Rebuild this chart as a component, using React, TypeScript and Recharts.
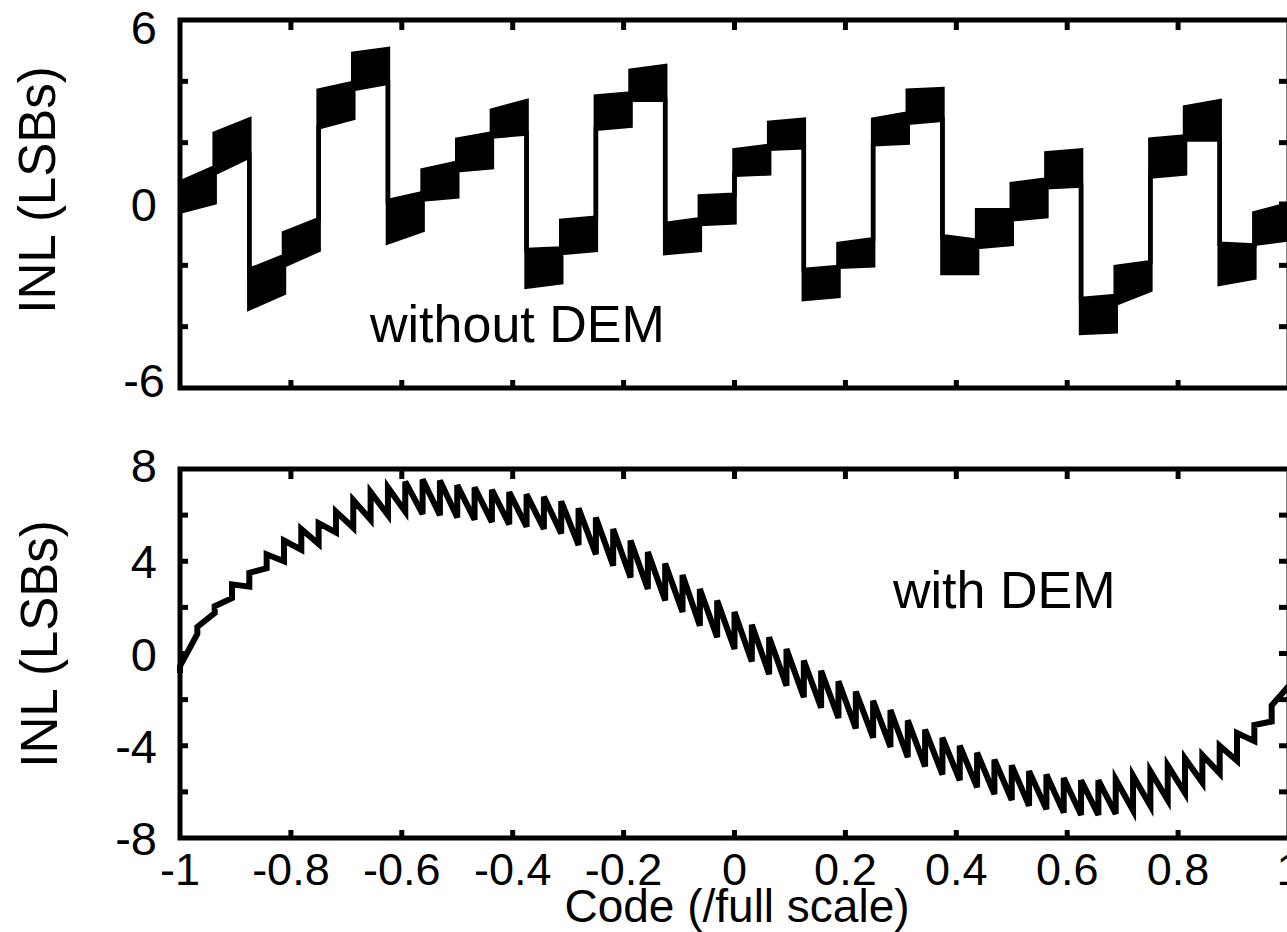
import React from 'react';
import { AreaChart, Area, LineChart, Line, XAxis, YAxis, ReferenceArea } from 'recharts';

const FONT = '"Liberation Sans", Arial, Helvetica, sans-serif';

// axis ticks
const CODE_TICKS = [-1, -0.8, -0.6, -0.4, -0.2, 0, 0.2, 0.4, 0.6, 0.8, 1];
const TOP_Y_TICKS = [-6, -4, -2, 0, 2, 4, 6];
const TOP_Y_LABELS = [-6, 0, 6];
const BOT_Y_TICKS = [-8, -6, -4, -2, 0, 2, 4, 6, 8];
const BOT_Y_LABELS = [-8, -4, 0, 4, 8];

// without DEM: 32 sub-ranges of 1/16 full scale, noisy band (low/high) at start and end of each
const SEG_START_LO = [-0.25, 1.0, -3.4, -2.0, 2.5, 3.75, -1.25, 0.15, 1.1, 2.2, -2.7, -1.6, 2.45, 3.4, -1.6, -0.65,
  0.95, 1.8, -3.1, -2.05, 1.95, 2.65, -2.25, -1.4, -0.5, 0.55, -4.2, -3.25, 0.9, 2.1, -2.6, -1.3];
const SEG_START_HI = [0.7, 2.3, -2.15, -0.95, 3.7, 4.9, 0.1, 1.1, 2.1, 3.05, -1.5, -0.55, 3.5, 4.35, -0.65, 0.25,
  1.75, 2.65, -2.15, -1.3, 2.75, 3.7, -1.05, -0.2, 0.65, 1.65, -3.1, -2.05, 2.1, 3.15, -1.3, -0.3];
const SEG_END_LO = [0.05, 1.55, -2.9, -1.5, 2.8, 3.95, -0.85, 0.25, 1.2, 2.3, -2.55, -1.5, 2.55, 3.4, -1.5, -0.6,
  1.0, 1.85, -3.0, -2.0, 2.0, 2.75, -2.25, -1.3, -0.4, 0.6, -4.15, -2.8, 1.0, 2.1, -2.4, -1.15];
const SEG_END_HI = [1.2, 2.75, -1.7, -0.5, 3.95, 5.05, 0.35, 1.35, 2.3, 3.35, -1.45, -0.45, 3.6, 4.5, -0.5, 0.3,
  1.9, 2.75, -2.05, -1.15, 2.95, 3.75, -1.2, -0.2, 0.8, 1.75, -3.0, -1.9, 2.2, 3.35, -1.35, 0.0];

// with DEM: 64 ripple teeth (1/32 full scale), value just before and just after each step
const RIPPLE_LO = [-0.85, 0.85, 1.75, 2.4, 2.9, 3.7, 4.0, 4.5, 4.75, 5.25, 5.45, 5.8, 6.0, 6.15, 6.05, 6.0,
  5.9, 5.8, 5.7, 5.6, 5.5, 5.4, 5.2, 4.7, 4.3, 3.8, 3.3, 2.8, 2.3, 1.8, 1.2, 0.7,
  0.2, -0.35, -0.9, -1.4, -1.9, -2.35, -2.8, -3.25, -3.65, -4.05, -4.5, -4.9, -5.25, -5.5, -5.8, -6.1,
  -6.35, -6.6, -6.75, -6.9, -7.0, -7.0, -6.95, -6.8, -6.6, -6.35, -6.05, -5.6, -5.2, -4.65, -3.8, -2.95];
const RIPPLE_HI = [-0.55, 1.15, 2.05, 3.0, 3.5, 4.3, 4.9, 5.4, 5.65, 6.15, 6.65, 7.0, 7.2, 7.45, 7.55, 7.5,
  7.3, 7.2, 7.1, 7.0, 6.9, 6.8, 6.6, 6.3, 5.9, 5.4, 4.9, 4.4, 3.9, 3.4, 2.8, 2.3,
  1.8, 1.25, 0.7, 0.2, -0.3, -0.75, -1.2, -1.65, -2.05, -2.45, -2.9, -3.3, -3.65, -4.0, -4.3, -4.6,
  -4.85, -5.1, -5.25, -5.4, -5.5, -5.5, -5.45, -5.3, -5.1, -4.85, -4.55, -4.4, -4.0, -3.45, -3.1, -2.25];
const RIPPLE_END = -1.4;

const topData: { x: number; band: [number, number] }[] = [];
SEG_START_LO.forEach((lo, k) => {
  topData.push({ x: -1 + k / 16, band: [lo, SEG_START_HI[k]] });
  topData.push({ x: -1 + (k + 1) / 16, band: [SEG_END_LO[k], SEG_END_HI[k]] });
});

const botData: { x: number; inl: number }[] = [];
RIPPLE_LO.forEach((lo, k) => {
  botData.push({ x: -1 + k / 32, inl: lo });
  botData.push({ x: -1 + k / 32, inl: RIPPLE_HI[k] });
});
botData.push({ x: 1, inl: RIPPLE_END });

const CHART_W = 1300;
const Y_AXIS_W = 180;
const PLOT_RIGHT = 1289;

// inward ticks on bottom and top edges, labels optional
const XTick = ({ x, y, payload, plotTop, showLabels }: any) => {
  const v = payload.value;
  const edge = v === -1 || v === 1;
  return (
    <g>
      {!edge && <line x1={x} x2={x} y1={y} y2={y - 10} stroke="#000" strokeWidth={5} />}
      {!edge && <line x1={x} x2={x} y1={plotTop} y2={plotTop + 10} stroke="#000" strokeWidth={5} />}
      {showLabels && (
        <text x={x} y={y + 45} textAnchor="middle" fontSize={45} fontFamily={FONT} fill="#000">
          {String(v)}
        </text>
      )}
    </g>
  );
};

// inward ticks on left and right edges
const YTick = ({ x, y, payload, labels, edges, nudge }: any) => {
  const v = payload.value;
  const edge = edges.includes(v);
  const [dx, dy] = nudge[v] || [0, 0];
  return (
    <g>
      {!edge && <line x1={x} x2={x + 10} y1={y} y2={y} stroke="#000" strokeWidth={5} />}
      {!edge && <line x1={PLOT_RIGHT} x2={PLOT_RIGHT - 10} y1={y} y2={y} stroke="#000" strokeWidth={5} />}
      {labels.includes(v) && (
        <text x={x - 21 + dx} y={y + 17 + dy} textAnchor="end" fontSize={47} fontFamily={FONT} fill="#000">
          {String(v)}
        </text>
      )}
    </g>
  );
};

const App = () => {
  return (
    <div style={{ position: 'absolute', left: 0, top: 0, width: 1287, height: 932, overflow: 'hidden', background: '#fff' }}>
      <div style={{ position: 'absolute', left: 0, top: 0 }}>
        <AreaChart width={CHART_W} height={430} data={topData} margin={{ top: 20, right: CHART_W - PLOT_RIGHT, bottom: 0, left: 0 }}>
          <XAxis dataKey="x" type="number" domain={[-1, 1]} ticks={CODE_TICKS} interval={0} height={42}
            tickSize={0} tickLine={false} axisLine={false}
            tick={(p: any) => <XTick {...p} plotTop={20} showLabels={false} />} />
          <YAxis type="number" domain={[-6, 6]} ticks={TOP_Y_TICKS} interval={0} width={Y_AXIS_W}
            tickSize={0} tickLine={false} axisLine={false}
            tick={(p: any) => <YTick {...p} labels={TOP_Y_LABELS} edges={[-6, 6]} nudge={{ 6: [0, 7], [-6]: [8, -8] }} />} />
          <ReferenceArea x1={-1} x2={1} y1={-6} y2={6} fill="none" stroke="#000" strokeWidth={5} />
          <Area type="linear" dataKey="band" stroke="#000" strokeWidth={4.5} fill="#000" fillOpacity={1}
            dot={false} activeDot={false} isAnimationActive={false} />
        </AreaChart>
      </div>
      <div style={{ position: 'absolute', left: 0, top: 440 }}>
        <LineChart width={CHART_W} height={492} data={botData} margin={{ top: 29, right: CHART_W - PLOT_RIGHT, bottom: 0, left: 0 }}>
          <XAxis dataKey="x" type="number" domain={[-1, 1]} ticks={CODE_TICKS} interval={0} height={94}
            tickSize={0} tickLine={false} axisLine={false}
            tick={(p: any) => <XTick {...p} plotTop={29} showLabels={true} />} />
          <YAxis type="number" domain={[-8, 8]} ticks={BOT_Y_TICKS} interval={0} width={Y_AXIS_W}
            tickSize={0} tickLine={false} axisLine={false}
            tick={(p: any) => <YTick {...p} labels={BOT_Y_LABELS} edges={[-8, 8]} nudge={{ 8: [0, -4] }} />} />
          <ReferenceArea x1={-1} x2={1} y1={-8} y2={8} fill="none" stroke="#000" strokeWidth={5} />
          <Line type="linear" dataKey="inl" stroke="#000" strokeWidth={6} dot={false} activeDot={false}
            isAnimationActive={false} />
        </LineChart>
      </div>
      <svg width={1287} height={932} style={{ position: 'absolute', left: 0, top: 0, pointerEvents: 'none' }}>
        <g fontFamily={FONT} fill="#000">
          <text transform="translate(55,190) rotate(-90)" textAnchor="middle" fontSize={51}>INL (LSBs)</text>
          <text transform="translate(57,644) rotate(-90)" textAnchor="middle" fontSize={51}>INL (LSBs)</text>
          <text x={370} y={342} fontSize={52}>without DEM</text>
          <text x={893} y={608} fontSize={52}>with DEM</text>
          <text x={737} y={922} textAnchor="middle" fontSize={46}>Code (/full scale)</text>
        </g>
      </svg>
    </div>
  );
};

export default App;
